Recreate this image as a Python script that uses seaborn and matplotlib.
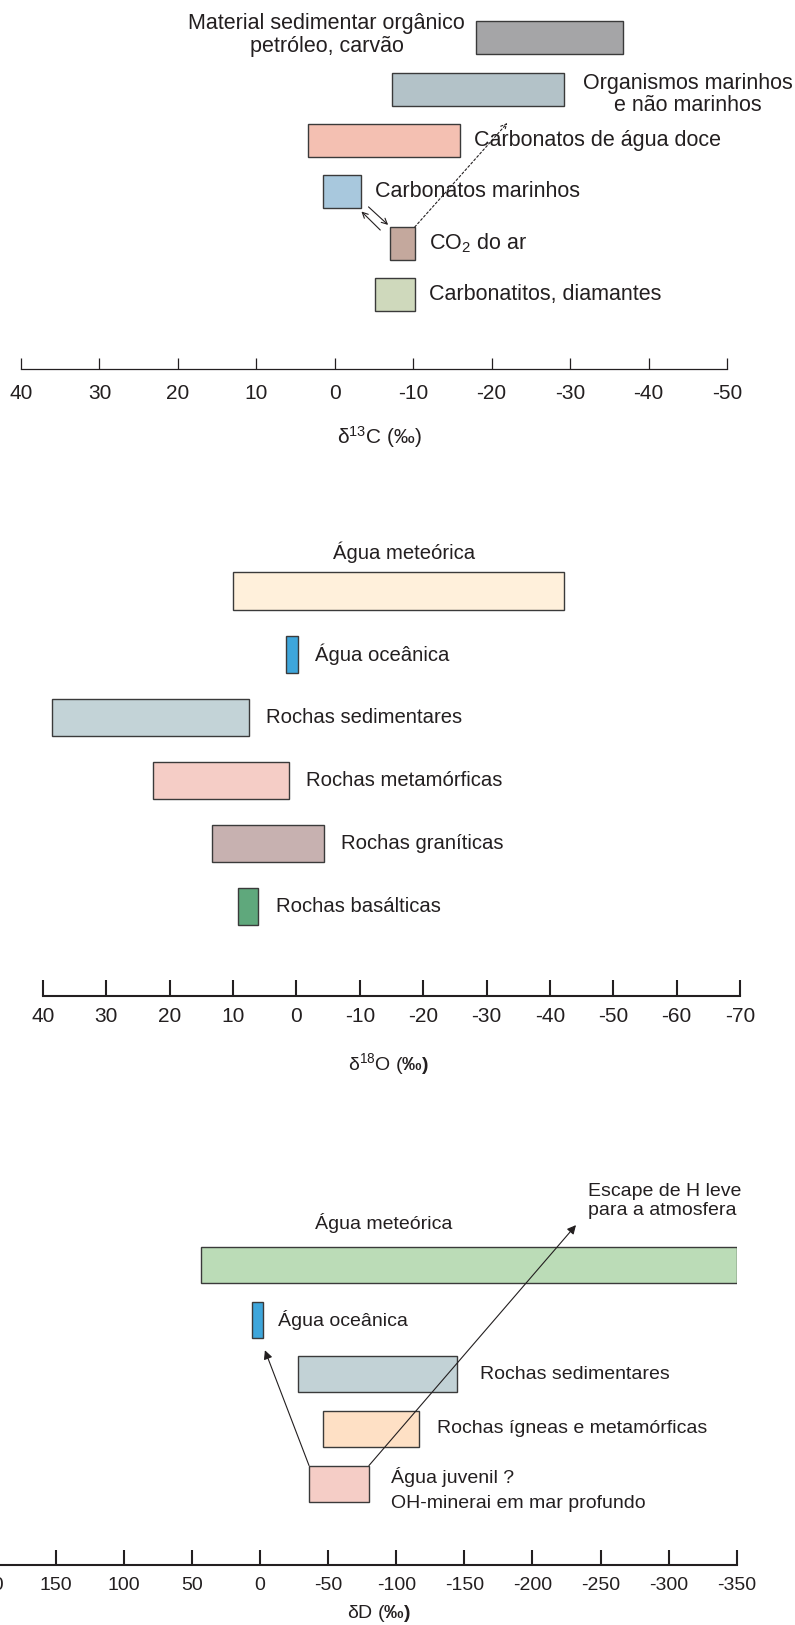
import matplotlib
matplotlib.use("Agg")
import matplotlib.pyplot as plt
import seaborn as sns

sns.set_style("white")
plt.rcParams["font.family"] = ["Liberation Sans", "DejaVu Sans"]
plt.rcParams["mathtext.fontset"] = "custom"
plt.rcParams["mathtext.rm"] = "Liberation Sans"
plt.rcParams["mathtext.it"] = "Liberation Sans:italic"
plt.rcParams["mathtext.bf"] = "Liberation Sans:bold"

# ---- delta 13C ----
c13_names = ["Material sedimentar orgânico\npetróleo, carvão", "Organismos marinhos\ne não marinhos",
             "Carbonatos de água doce", "Carbonatos marinhos", "CO$_2$ do ar", "Carbonatitos, diamantes"]
c13_from = [-18, -7.3, 3.4, 1.5, -7.1, -5.1]
c13_to = [-36.8, -29.2, -16, -3.4, -10.2, -10.2]
c13_colors = ["#a5a5a7", "#b3c2c8", "#f4c0b2", "#a8c8dd", "#c4a89d", "#cfd9bc"]
c13_ticks = [40, 30, 20, 10, 0, -10, -20, -30, -40, -50]

# ---- delta 18O ----
o18_names = ["Água meteórica", "Água oceânica", "Rochas sedimentares", "Rochas metamórficas",
             "Rochas graníticas", "Rochas basálticas"]
o18_from = [10, 1.7, 38.6, 22.6, 13.3, 9.2]
o18_to = [-42.3, -0.2, 7.5, 1.2, -4.3, 6]
o18_colors = ["#fff0db", "#3ea6db", "#c3d3d7", "#f5cdc6", "#c7b1b0", "#5fa87c"]
o18_ticks = [40, 30, 20, 10, 0, -10, -20, -30, -40, -50, -60, -70]

# ---- delta D ----
dd_names = ["Água meteórica", "Água oceânica", "Rochas sedimentares", "Rochas ígneas e metamórficas",
            "Água juvenil ?\nOH-minerai em mar profundo"]
dd_from = [43, 6, -28, -46, -36]
dd_to = [-350, -2.4, -145, -117, -80]
dd_colors = ["#bbdcb7", "#3ea6db", "#c2d2d6", "#fee0c5", "#f5cdc6"]
dd_ticks = [200, 150, 100, 50, 0, -50, -100, -150, -200, -250, -300, -350]

W, H = 795, 1625
fig = plt.figure(figsize=(W / 100, H / 100), dpi=100)
ink = "#231f20"


def make_axes(x0, x1, top, bottom, xlim, ylim, ticks, fs, tlen, lw, pad):
    ax = fig.add_axes([x0 / W, 1 - bottom / H, (x1 - x0) / W, (bottom - top) / H])
    ax.set_xlim(*xlim)
    ax.set_ylim(*ylim)
    ax.set_yticks([])
    ax.set_xticks(ticks)
    ax.set_xticklabels([str(t) for t in ticks])
    sns.despine(ax=ax, left=True)
    ax.spines["bottom"].set_linewidth(lw)
    ax.spines["bottom"].set_color(ink)
    ax.tick_params(axis="x", direction="in", length=tlen, width=lw, pad=pad,
                   labelsize=fs, colors=ink, bottom=True)
    ax.patch.set_alpha(0)
    return ax


def bars(ax, lo, hi, colors, h):
    rows = list(range(len(lo)))
    ax.barh(rows, [b - a for a, b in zip(lo, hi)], left=lo, height=h, color=colors,
            edgecolor="#3a3a3a", linewidth=1.0, zorder=2)
    return rows


# panel 1
ax1 = make_axes(21, 727, 0, 369, (40, -50), (6.44, -0.73), c13_ticks, 15, 8, 0.9, 11)
r1 = bars(ax1, c13_from, c13_to, c13_colors, 0.64)
for i, name in enumerate(c13_names):
    if i == 0:
        ax1.annotate(name, (c13_from[i], i), xytext=(-8, 2), textcoords="offset points",
                     ha="right", va="center", multialignment="center", fontsize=15.5,
                     color=ink, linespacing=1.1)
    elif i == 1:
        ax1.annotate(name, (c13_to[i], i), xytext=(13.5, -4), textcoords="offset points",
                     ha="left", va="center", multialignment="center", fontsize=15.5,
                     color=ink, linespacing=1.07)
    else:
        ax1.annotate(name, (c13_to[i], i), xytext=(10, 0), textcoords="offset points",
                     ha="left", va="center", fontsize=15.5, color=ink)
# exchange arrows between marine carbonates and air CO2
ax1.annotate("", xy=(-3.4, 3.38), xytext=(-5.8, 3.74),
             arrowprops=dict(arrowstyle="->", lw=0.8, color=ink, shrinkA=0, shrinkB=0))
ax1.annotate("", xy=(-6.8, 3.64), xytext=(-4.3, 3.29),
             arrowprops=dict(arrowstyle="->", lw=0.8, color=ink, shrinkA=0, shrinkB=0))
ax1.annotate("", xy=(-22, 1.66), xytext=(c13_to[4], 4 - 0.32),
             arrowprops=dict(arrowstyle="->", lw=0.8, color=ink, ls=(0, (2, 2)),
                             shrinkA=0, shrinkB=0))
ax1.set_xlabel("δ$^{13}$C (‰)", fontsize=15, color=ink, va="center")
ax1.xaxis.set_label_coords(0.508, -0.184)

# panel 2
ax2 = make_axes(43, 740, 500, 996, (40, -70), (6.42, -1.45), o18_ticks, 15, 11.5, 1.5, 8)
r2 = bars(ax2, o18_from, o18_to, o18_colors, 0.6)
for i, name in enumerate(o18_names):
    if i == 0:
        ax2.annotate(name, ((o18_from[i] + o18_to[i]) / 2, i - 0.3), xytext=(3.5, 14.5),
                     textcoords="offset points", ha="center", va="center", fontsize=14.6, color=ink)
    else:
        ax2.annotate(name, (min(o18_from[i], o18_to[i]), i), xytext=(12.5, 0),
                     textcoords="offset points", ha="left", va="center", fontsize=14.6, color=ink)
ax2.set_xlabel("δ$^{18}$O ($\\mathbf{‰)}$", fontsize=14, color=ink, va="center")
ax2.xaxis.set_label_coords(0.495, -0.138)

# panel 3
ax3 = make_axes(-12.4, 736.7, 1165, 1565, (200, -350), (5.49, -1.83), dd_ticks, 14, 11, 1.5, 8.5)
r3 = bars(ax3, dd_from, dd_to, dd_colors, 0.66)
gaps = [0, 10.5, 16.5, 13, 16]
for i, name in enumerate(dd_names):
    if i == 0:
        ax3.annotate(name, (-91, i - 0.33), xytext=(0, 17.5), textcoords="offset points",
                     ha="center", va="center", fontsize=14, color=ink)
    elif i == 4:
        ax3.annotate(name, (dd_to[i], i), xytext=(gaps[i], -4.5), textcoords="offset points",
                     ha="left", va="center", fontsize=14, color=ink, linespacing=1.6)
    else:
        ax3.annotate(name, (dd_to[i], i), xytext=(gaps[i], 0), textcoords="offset points",
                     ha="left", va="center", fontsize=14, color=ink)
ax3.text(-241, -1.17, "Escape de H leve\npara a atmosfera", ha="left", va="center",
         fontsize=14, color=ink, linespacing=1.15)
ax3.annotate("", xy=(-3.6, 1.56), xytext=(dd_from[4], 4 - 0.33),
             arrowprops=dict(arrowstyle="-|>", lw=0.8, color=ink, shrinkA=0, shrinkB=0,
                             mutation_scale=13), zorder=3)
ax3.annotate("", xy=(-232, -0.73), xytext=(dd_to[4], 4 - 0.33),
             arrowprops=dict(arrowstyle="-|>", lw=0.8, color=ink, shrinkA=0, shrinkB=0,
                             mutation_scale=13), zorder=3)
ax3.set_xlabel("δD ($\\mathbf{‰)}$", fontsize=14, color=ink, va="center")
ax3.xaxis.set_label_coords(0.522, -0.1225)

fig.savefig("out.png", dpi=100)
